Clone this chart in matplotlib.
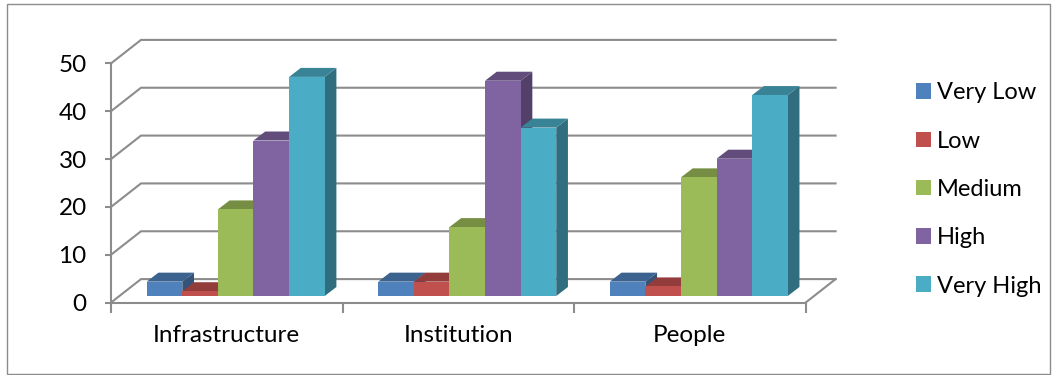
import numpy as np
import matplotlib
matplotlib.use("Agg")
import matplotlib.pyplot as plt
from matplotlib.patches import Polygon, Rectangle
from matplotlib.colors import to_rgb

plt.rcParams['font.family'] = ['Lato', 'DejaVu Sans']

categories = ["Infrastructure", "Institution", "People"]
series = ["Very Low", "Low", "Medium", "High", "Very High"]
very_low = [3, 3, 3]
low = [1, 3, 2]
medium = [18.1, 14.4, 24.8]
high = [32.5, 45, 28.7]
very_high = [45.8, 35.2, 42]
colors = ["#4F81BD", "#C0504D", "#9BBB59", "#8064A2", "#4BACC6"]
yticks = [0, 10, 20, 30, 40, 50]

W, H = 1057, 375
fig = plt.figure(figsize=(W / 100, H / 100), dpi=100)
ax = fig.add_axes([0, 0, 1, 1])
ax.patch.set_alpha(0)

# pixel layout of the reference -> data limits
x0_px, x3_px = 111, 805.6
y0_px, y50_px = 302.6, 63.4
sx = (x3_px - x0_px) / 3
sy = (y0_px - y50_px) / 50
ax.set_xlim(-x0_px / sx, (W - x0_px) / sx)
ax.set_ylim(-(H - y0_px) / sy, y0_px / sy)

grid_c = "#8C8C8C"

# back wall and left wall
wall_dx, wall_dy = 30 / sx, 23.5 / sy
for t in yticks:
    ax.plot([0, wall_dx, 3 + wall_dx], [t, t + wall_dy, t + wall_dy], color=grid_c, lw=1.5, zorder=1,
            solid_joinstyle='miter')
ax.plot([3, 3 + wall_dx], [0, wall_dy], color=grid_c, lw=1.5, zorder=1)

# axes
for s in ['top', 'right']:
    ax.spines[s].set_visible(False)
ax.spines['left'].set_position(('data', 0))
ax.spines['bottom'].set_position(('data', 0))
ax.spines['left'].set_bounds(0, 50)
ax.spines['bottom'].set_bounds(0, 3)
for s in ['left', 'bottom']:
    ax.spines[s].set_color(grid_c)
    ax.spines[s].set_linewidth(1.5)
ax.set_yticks(yticks)
ax.set_xticks([0, 1, 2, 3])
ax.set_xticklabels([])
ax.set_xticks([0.5, 1.5, 2.5], categories, minor=True)
ax.tick_params(axis='x', which='major', length=7, width=1.5, color=grid_c)
ax.tick_params(axis='x', which='minor', length=0, pad=16, labelsize=17.5, labelcolor='black')
ax.tick_params(axis='y', length=4.5, width=1.5, color=grid_c, pad=13, labelsize=17.5, labelcolor='black')

# bars with oblique depth
bar_w = 35.6 / sx
left_gap = 35.7 / sx
base = 6.6 / sy
dx, dy = 11.7 / sx, 9 / sy
values = [very_low, low, medium, high, very_high]


def shade(c, f):
    return tuple(v * f for v in to_rgb(c))


for i, (name, vals, c) in enumerate(zip(series, values, colors)):
    xs = np.arange(3) + left_gap + i * bar_w
    ax.bar(xs, vals, bar_w, bottom=base, align='edge', color=c, label=name, zorder=5, linewidth=0)
    for x, v in zip(xs, vals):
        top = base + v
        # the top of a bar sits over the side of a taller neighbour
        ax.add_patch(Polygon([(x, top), (x + bar_w, top), (x + bar_w + dx, top + dy), (x + dx, top + dy)],
                             closed=True, color=shade(c, 0.76), lw=0, zorder=4))
        ax.add_patch(Polygon([(x + bar_w, base), (x + bar_w + dx, base + dy), (x + bar_w + dx, top + dy),
                              (x + bar_w, top)], closed=True, color=shade(c, 0.64), lw=0, zorder=3))

leg = ax.legend(loc='center left', bbox_to_anchor=(911 / W, 1 - 189.5 / H), frameon=False, fontsize=17,
                handlelength=0.635, handleheight=0.635, handletextpad=0.26, labelspacing=1.155,
                borderpad=0, borderaxespad=0.2)

# chart border
fig.add_artist(Rectangle((6.5 / W, 1 - 373.5 / H), 1043.5 / W, 369.5 / H, fill=False, ec="#8C8C8C", lw=1,
                         transform=fig.transFigure))

fig.savefig("out.png", dpi=100)
